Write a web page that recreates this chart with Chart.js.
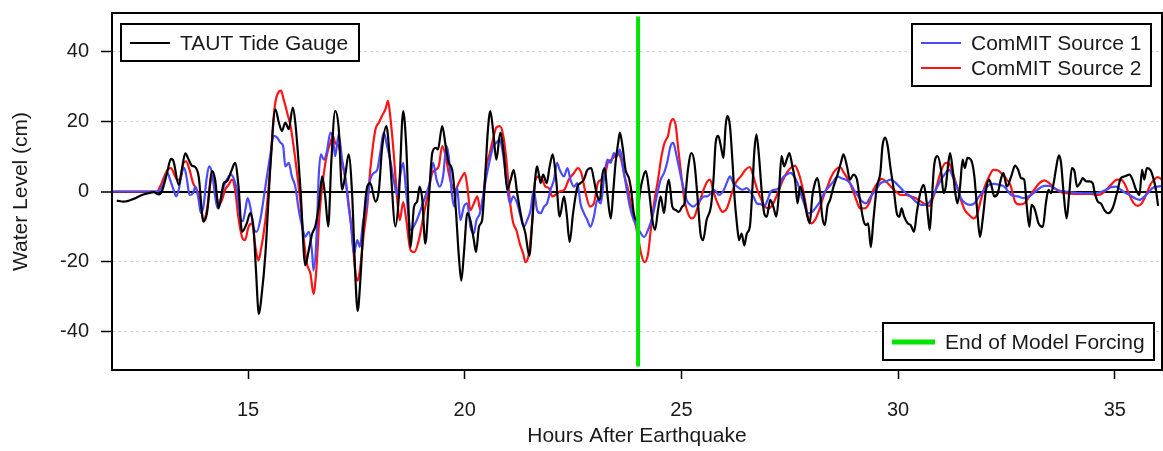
<!DOCTYPE html>
<html>
<head>
<meta charset="utf-8">
<script src="https://cdn.jsdelivr.net/npm/chart.js@4"></script>
<style>
  html, body { margin: 0; padding: 0; background: #fff; }
</style>
</head>
<body>
<canvas id="tideChart" width="1163" height="451"></canvas>
<script>
// ---- data ----
const xTicks = [15, 20, 25, 30, 35];
const yTicks = [-40, -20, 0, 20, 40];
const forcingEnd = 24;
const forcingSpan = [-50, 50];

const tideHours = [11.97,12.13,12.36,12.55,12.70,12.82,12.94,13.01,13.13,13.22,13.28,13.40,13.47,13.55,13.63,13.70,13.78,13.86,13.97,14.05,14.17,14.24,14.32,14.44,14.51,14.63,14.70,14.78,14.86,14.97,15.05,15.13,15.18,15.25,
  15.31,15.40,15.52,15.63,15.71,15.78,15.86,15.94,16.03,16.09,16.21,16.32,16.40,16.48,16.55,16.63,16.71,16.78,16.85,16.92,17.01,17.09,17.17,17.25,17.32,17.40,17.48,17.53,17.59,17.67,17.75,17.82,17.94,18.02,18.09,18.19,18.28,18.40,18.48,18.58,18.65,
  18.75,18.83,18.90,18.96,19.02,19.09,19.17,19.25,19.33,19.38,19.48,19.56,19.63,19.71,19.79,19.86,19.92,19.98,20.06,20.13,20.21,20.26,20.33,20.40,20.48,20.53,20.59,20.66,20.73,20.82,20.90,20.98,21.06,21.13,21.21,21.32,21.40,21.49,21.56,21.61,21.67,21.75,21.81,21.89,21.96,22.03,22.11,22.19,
  22.29,22.35,22.42,22.50,22.60,22.67,22.75,22.83,22.92,22.98,23.06,23.12,23.17,23.23,23.29,23.37,23.43,23.48,23.54,23.58,23.64,23.71,23.79,23.84,23.90,23.97,24.04,24.12,24.18,24.25,24.33,24.39,24.46,24.52,24.60,24.66,24.71,24.79,24.87,24.94,25.02,25.07,25.15,25.23,25.30,25.37,25.44,25.50,25.58,
  25.68,25.74,25.79,25.85,25.91,25.97,26.02,26.06,26.12,26.18,26.23,26.28,26.33,26.39,26.45,26.51,26.58,26.64,26.68,26.73,26.79,26.85,26.91,26.97,27.05,27.12,27.19,27.25,27.31,27.37,27.43,27.49,27.56,27.62,27.68,27.74,27.82,27.89,27.96,28.02,28.08,28.14,28.20,28.25,28.31,28.37,28.43,28.51,28.59,28.68,28.74,28.82,28.89,28.97,29.05,29.12,
  29.20,29.26,29.31,29.37,29.43,29.51,29.59,29.64,29.70,29.76,29.82,29.90,29.97,30.03,30.08,30.14,30.22,30.29,30.37,30.43,30.51,30.59,30.64,30.70,30.73,30.77,30.83,30.91,30.99,31.05,31.10,31.16,31.20,31.26,31.32,31.37,31.43,31.49,31.54,31.60,31.68,31.76,31.83,31.89,31.95,32.03,32.10,32.16,32.22,32.30,32.37,32.43,32.51,
  32.61,32.70,32.77,32.84,32.91,32.97,33.03,33.08,33.16,33.24,33.34,33.41,33.47,33.53,33.59,33.64,33.71,33.76,33.82,33.89,33.95,34.01,34.07,34.13,34.20,34.26,34.34,34.41,34.49,34.54,34.61,34.68,34.76,34.85,34.95,35.05,35.14,35.22,35.34,35.41,35.49,35.57,35.63,35.68,35.74,35.82,35.90,35.95,36.00];
const tideLevel = [-2.6,-2.9,-2.1,-1.0,-0.5,-0.2,-0.8,0,5.3,9.3,8.6,1.9,6.2,10.9,9.1,7.4,7.0,4.3,-8.6,-6.2,5.8,3.4,-4.8,2.4,2.9,6.4,8.2,1.4,-11.5,-9.1,-6.2,-11.0,-22,-35,
  -30,-17.8,8.2,23.5,19.7,17.3,19.7,17.8,24,19.7,0.5,-21.1,-16.8,-12,-10,-4.3,4.3,-1.4,-10,8.2,23,18.3,0.5,5.3,10.6,-0.5,-25.5,-34.1,-25.5,-8.2,1.4,2.4,-2.9,0.5,12,18.7,8.2,-10,-1.4,23,13,
  -15.9,-4.3,-2.9,1.4,-2.4,-14.9,-2.4,11,12.5,12,18.7,13,8.2,6.2,-4.3,-17.8,-25.5,-17.8,-6.2,-8.2,-13.9,-17.3,-10,-8.2,6.2,16.8,23,16.8,9.1,16.8,11,0.5,3.4,6.2,-0.5,-8.2,-12,-18.3,-8.2,1.4,7.2,2.4,4.8,2.4,7.2,10.6,3.4,-7.2,
  -1.4,-6.2,-14.4,-6.2,1.4,2.4,3.4,6.2,6.7,3.4,-1.4,-2.4,4.3,6.7,-0.5,-7.7,0.5,8.2,13.9,16.8,13,6.2,3.8,0.5,-6.2,-8.2,-0.5,4.3,5.8,0.5,-8.2,-11,-5.3,-1.4,-6.2,0.5,3.4,-4.3,-5.3,-5.8,-4.3,-3.4,6.2,11,8.2,-1.4,-12,-13.9,-8.2,
  -4.3,3.4,13.9,15.9,13,9.6,18.7,21.6,18.7,8.2,-2.4,-9.1,-13.9,-12,-15.4,-12,-10,1.4,11,16.3,10.1,0.5,-6.2,-7.2,-2.4,-4.3,-7.2,-0.5,10.1,7.2,9.1,11,7.2,3.4,-3.4,1.4,-1.4,-6.2,-9.1,-1.4,2.4,3.8,-0.5,-7.2,-9.6,-4.3,-2.4,1.4,4.3,8.2,10.6,7.2,3.4,4.8,3.4,-2.4,
  -8.2,-9.6,-9.1,-15.9,-8.2,1.4,5.3,13,15.4,13,7.2,0.5,-6.2,-7.2,-4.8,-7.2,-9.1,-9.6,-11.5,-6.2,-0.5,1.9,-1.0,-8.2,-11,-4.3,7.2,10.1,6.2,-0.5,1.4,8.2,11,6.2,-0.5,-3.4,1.4,9.1,6.7,9.6,9.1,4.3,-6.2,-13,-8.2,0.5,3.4,1.4,-1.4,-0.5,3.4,5.3,1.4,
  4.3,7.4,6.2,3.8,3.4,-4.3,-10.1,-3.8,-5.3,-9.1,-10.1,-3.4,0.5,-0.5,2.4,6.2,10.3,8.2,-0.5,-7.7,-0.5,6.7,5.8,1.4,2.4,3.8,2.9,2.9,2.4,-0.5,-2.9,-3.4,-5.3,-6.2,-4.8,-0.5,3.8,4.3,4.8,3.4,0.5,-1.0,6.2,3.4,6.7,6.2,3.4,0.5,-4.1];

const src1Hours = [11.86,12.90,12.97,13.05,13.14,13.20,13.28,13.34,13.40,13.47,13.53,13.59,13.65,13.73,13.78,13.86,13.91,13.97,14.04,14.10,14.17,14.24,14.30,14.36,14.44,14.51,14.60,14.68,14.74,14.82,14.88,14.94,14.99,15.05,15.13,15.20,
  15.28,15.40,15.52,15.59,15.67,15.75,15.81,15.86,15.94,16.01,16.09,16.17,16.25,16.32,16.40,16.48,16.51,16.58,16.63,16.68,16.75,16.82,16.90,16.96,17.01,17.09,17.17,17.25,17.32,17.38,17.44,17.52,17.58,17.65,17.73,17.82,17.90,17.98,18.05,18.13,18.21,18.28,18.36,18.44,18.52,18.58,18.65,
  18.76,18.86,18.98,19.09,19.19,19.27,19.35,19.42,19.50,19.58,19.63,19.71,19.76,19.82,19.90,19.98,20.06,20.13,20.21,20.27,20.35,20.42,20.50,20.58,20.66,20.73,20.81,20.89,20.96,21.04,21.12,21.21,21.27,21.36,21.44,21.52,21.59,21.67,21.75,21.83,21.90,21.98,22.06,22.13,22.19,
  22.29,22.37,22.44,22.52,22.60,22.67,22.75,22.83,22.90,22.98,23.06,23.14,23.21,23.29,23.37,23.44,23.52,23.58,23.66,23.74,23.81,23.90,24.02,24.14,24.23,24.33,24.43,24.52,24.60,24.67,24.75,24.81,24.89,24.97,25.04,25.12,25.20,25.27,25.37,25.44,25.52,25.60,
  25.68,25.75,25.87,25.98,26.06,26.12,26.20,26.29,26.41,26.51,26.58,26.66,26.74,26.83,26.91,26.99,27.06,27.15,27.25,27.33,27.43,27.52,27.60,27.68,27.75,27.83,27.92,28.02,28.12,28.22,28.31,28.41,28.51,28.60,28.69,28.79,28.89,28.98,29.06,
  29.14,29.26,29.37,29.49,29.60,29.72,29.83,29.95,30.06,30.18,30.29,30.41,30.53,30.64,30.76,30.87,30.99,31.10,31.18,31.26,31.36,31.45,31.56,31.66,31.76,31.87,31.99,32.10,32.22,32.33,32.45,
  32.61,32.76,32.91,33.07,33.22,33.37,33.49,33.60,33.72,33.87,34.07,34.26,34.45,34.64,34.80,34.91,35.03,35.14,35.26,35.37,35.49,35.57,35.64,35.76,35.87,35.99,36.09];
const src1Level = [0,0,0.5,2.4,5.3,3.4,0.5,-1.4,0.5,5.3,6.7,3.4,-1.0,-0.5,1.4,-2.4,-6.2,-4.3,3.4,7.2,5.3,-1.4,-4.8,-2.4,1.4,3.4,4.8,3.4,0.5,-7.5,-8.5,-5,-1.9,-4.3,-10.6,-11.5,
  -8.2,1.4,11,15.9,15.4,13.9,12.9,7.2,8.2,4.3,1.4,-5.3,-10.1,-13,-11.5,-17.8,-22.6,-13,4.3,10.6,9.1,11.5,16.8,15,10.1,16.3,9.1,3.4,-4.3,-10.1,-17.8,-13.9,-15.8,-9.1,-4.3,3.4,5.3,6.2,11,16.8,12.9,9.1,3.4,-1.0,5.3,8.2,-0.5,
  -11,-9.1,-5.3,-1.4,2.4,8.2,3.4,1.4,4.3,13,10.1,-1.4,-4.3,1.4,-8.2,-4.3,-3.4,-10.1,-12,-8.2,-6.2,-1.4,4.3,9.1,13,13.9,14.9,10.1,3.4,-3.4,-1.4,-3.4,-6.2,-10.1,-8.2,-5.3,0.5,-5.3,-6.2,-4.3,-3.4,0.5,3.4,8.2,6.2,
  4.3,6.7,3.4,1.4,2.4,-3.4,-6.2,-8.2,-10.1,-7.2,-2.4,-3.4,3.4,9.1,8.2,11,10.1,12,6.2,0.5,-4.3,-8.2,-11,-13,-11,-7.2,-1.4,3.4,5.3,8.2,13,13.9,10.1,5.3,1.4,-2.4,-3.8,-4.3,-3.4,-2.4,-1.4,-1.4,
  -0.5,0.5,-1.0,0.5,2.9,4.3,2.4,1.4,0.5,1.0,0,-1.4,-3.4,-3.6,-4.3,-2.4,0,0.5,1.0,3.8,4.8,5.3,4.3,2.4,-0.5,-3.4,-6.2,-5.8,-4.3,-2.4,0,1.4,2.9,4.3,3.8,3.4,2.4,0.5,-1.0,
  -2.4,-3.4,-1.4,0.5,2.4,2.9,3.4,2.4,1.0,-0.5,-1.4,-2.9,-3.8,-3.8,-2.4,0.5,3.4,5.3,6.2,4.3,1.4,-1.9,-3.4,-3.8,-3.4,-1.4,0.5,1.9,2.2,1.9,1.4,
  -1.0,-1.4,-1.9,-1.0,0.5,1.6,1.6,1.0,0.3,0,-0.3,-0.5,-0.5,-0.3,0.5,1.2,1.4,0.5,-0.5,-1.2,-2.1,-2.4,-1.9,-0.5,1.0,1.4,1.6];

const src2Hours = [11.86,12.90,12.97,13.05,13.14,13.22,13.30,13.36,13.44,13.51,13.57,13.65,13.73,13.82,13.90,13.97,14.05,14.13,14.19,14.27,14.32,14.40,14.47,14.55,14.63,14.70,14.78,14.86,14.93,15.01,15.09,15.17,15.24,
  15.28,15.40,15.50,15.58,15.63,15.76,15.82,15.90,15.98,16.05,16.13,16.21,16.28,16.36,16.44,16.51,16.58,16.65,16.75,16.82,16.90,16.96,17.01,17.09,17.17,17.25,17.32,17.40,17.48,17.53,17.59,17.67,17.75,17.82,17.94,18.02,18.09,18.17,18.23,18.28,18.36,18.44,18.50,18.58,18.65,
  18.75,18.84,18.94,19.06,19.17,19.25,19.33,19.40,19.48,19.56,19.63,19.71,19.79,19.86,19.94,20.00,20.06,20.13,20.21,20.29,20.36,20.42,20.50,20.58,20.67,20.73,20.81,20.89,20.96,21.04,21.12,21.19,21.27,21.35,21.40,21.48,21.56,21.63,21.71,21.79,21.86,21.94,22.02,22.09,22.19,
  22.30,22.40,22.52,22.61,22.69,22.79,22.89,22.98,23.07,23.15,23.23,23.30,23.38,23.46,23.53,23.61,23.69,23.77,23.84,23.92,24.00,24.07,24.15,24.23,24.30,24.38,24.46,24.54,24.61,24.69,24.75,24.81,24.87,24.92,25.00,25.07,25.15,25.23,25.30,25.38,25.46,25.54,25.60,25.66,
  25.75,25.85,25.95,26.05,26.14,26.25,26.37,26.48,26.58,26.66,26.75,26.83,26.92,27.02,27.12,27.22,27.33,27.43,27.52,27.62,27.69,27.77,27.85,27.92,28.00,28.08,28.18,28.28,28.37,28.46,28.56,28.66,28.75,28.85,28.95,29.05,29.12,
  29.23,29.33,29.43,29.53,29.62,29.72,29.83,29.95,30.06,30.18,30.29,30.41,30.53,30.64,30.72,30.82,30.91,31.00,31.10,31.18,31.26,31.36,31.45,31.54,31.64,31.74,31.82,31.91,32.00,32.10,32.20,32.31,32.41,32.51,32.59,
  32.70,32.80,32.91,33.03,33.14,33.26,33.37,33.49,33.60,33.72,33.87,34.07,34.26,34.45,34.61,34.72,34.84,34.95,35.05,35.14,35.24,35.34,35.44,35.53,35.62,35.72,35.82,35.91,35.99,36.09];
const src2Level = [0,0,1.4,3.8,6.2,6.7,4.8,3.4,3.4,8.2,8.6,6.2,2.4,0.5,-3.4,-8.2,-5.3,2.4,4.8,-0.5,-3.8,-2.4,0.5,1.9,3.4,0.5,-7.7,-13,-13.9,-10.1,-9.1,-15.9,-19.7,
  -17.8,-8.2,5.3,19.7,25.5,28.8,26.4,22.6,18.7,13,5.3,-3.4,-13,-20.7,-23.5,-29.3,-21.6,-6.2,5.3,10.6,13.9,15.9,13.9,13,8.2,3.4,-3.4,-12,-23.5,-25.5,-21.6,-12,-4.3,6.2,17.8,19.7,21.6,23.5,25.9,21.6,11,-2,-8.2,-3,-8,
  -16.8,-17.3,-13.9,-6.2,0.5,5.3,6.2,7.2,13,10.1,5.3,1.4,0.5,2.4,4.3,5.3,1.4,-5.3,-3.4,-1.4,-5.3,-2.4,7.2,11,15.9,18.3,18.7,15.9,9.1,-2.4,-9.1,-11,-14.9,-17.8,-20.2,-17.8,-8.2,3.4,4.3,3.4,1.4,1.0,-1.4,-1.0,0,
  0.5,3.4,5.3,6.7,5.3,-0.5,-4.3,-3.4,2.4,3.4,4.3,8.2,9.1,10.1,11,9.1,4.3,0.5,-4.3,-8.2,-13,-17.8,-20.2,-17.8,-10.1,-2.4,3.4,10.1,13.9,15.9,19.7,20.7,18.7,13,4.3,-2.4,-6.2,-7.7,-7.2,-4.3,-1.4,1.4,2.9,3.4,
  -0.5,-3.8,-5.8,-4.8,-1.4,2.4,4.3,6.2,7.0,4.3,0.5,-1.9,-4.3,-4.8,-3.4,-0.5,2.9,5.3,6.7,7.4,5.8,2.4,-2.4,-7.2,-9.1,-8.2,-5.3,-1.4,1.4,4.3,6.2,7.0,5.3,3.4,0.5,-2.9,-4.8,
  -4.8,-3.4,0.5,2.4,3.6,2.9,1.4,0,-1.0,-1.0,-1.4,-1.9,-2.9,-3.8,-4.1,-1.4,2.4,6.2,8.2,8.0,5.3,1.4,-2.4,-5.3,-6.7,-7.7,-6.7,-2.4,1.4,4.3,6.2,6.0,4.8,3.4,1.9,
  -2.9,-3.7,-3.4,-1.4,0.5,2.4,3.2,2.4,1.0,0,-0.5,-0.7,-0.7,-0.7,-1.0,-0.5,1.0,2.4,3.4,3.4,1.9,-1.0,-3.4,-4.1,-3.4,-1.0,1.9,3.4,4.1,3.4];

// ---- chart ----
const FONT = '"Liberation Sans", Arial, sans-serif';
const TEXT = '#1a1a1a';
const pairs = (xs, ys) => xs.map((x, i) => ({ x: x, y: ys[i] }));
const isZero = c => c.tick && c.tick.value === 0;

// frame around the plot + the three legend boxes
const decorations = {
  id: 'decorations',
  afterDatasetsDraw(chart) {
    const ctx = chart.ctx;
    const a = chart.chartArea;
    ctx.save();
    ctx.strokeStyle = '#000';
    ctx.lineWidth = 2;
    ctx.strokeRect(a.left, a.top, a.right - a.left, a.bottom - a.top);

    ctx.font = '21px ' + FONT;
    ctx.textBaseline = 'middle';
    const box = (x, y, w, rows, lineLen, textGap) => {
      const h = rows.length * 25 + 12;
      ctx.fillStyle = '#fff';
      ctx.fillRect(x, y, w, h);
      ctx.strokeStyle = '#000';
      ctx.lineWidth = 2;
      ctx.strokeRect(x, y, w, h);
      rows.forEach((r, i) => {
        const cy = y + 19 + i * 25;
        ctx.beginPath();
        ctx.strokeStyle = r.color;
        ctx.lineWidth = r.width;
        ctx.moveTo(x + 9, cy);
        ctx.lineTo(x + 9 + lineLen, cy);
        ctx.stroke();
        ctx.fillStyle = TEXT;
        ctx.fillText(r.label, x + 9 + lineLen + textGap, cy + 1);
      });
    };
    const ds = chart.data.datasets;
    box(a.left + 9, a.top + 11, 238, [{ label: ds[1].label, color: ds[1].borderColor, width: 2 }], 40, 10);
    box(a.right - 250, a.top + 11, 239, [
      { label: ds[2].label, color: ds[2].borderColor, width: 2 },
      { label: ds[3].label, color: ds[3].borderColor, width: 2 }
    ], 40, 10);
    box(a.right - 279, a.bottom - 47, 271, [{ label: ds[0].label, color: ds[0].borderColor, width: 5 }], 43, 10);
    ctx.restore();
  }
};

new Chart(document.getElementById('tideChart'), {
  type: 'line',
  data: {
    datasets: [
      { label: 'End of Model Forcing', data: forcingSpan.map(v => ({ x: forcingEnd, y: v })),
        borderColor: '#00e400', borderWidth: 4, tension: 0, order: 0 },
      { label: 'TAUT Tide Gauge', data: pairs(tideHours, tideLevel),
        borderColor: '#000000', borderWidth: 2.2, cubicInterpolationMode: 'monotone', order: 1 },
      { label: 'ComMIT Source 1', data: pairs(src1Hours, src1Level),
        borderColor: '#4a4aff', borderWidth: 2.2, cubicInterpolationMode: 'monotone', order: 2 },
      { label: 'ComMIT Source 2', data: pairs(src2Hours, src2Level),
        borderColor: '#ff1414', borderWidth: 2.2, cubicInterpolationMode: 'monotone', order: 3 }
    ]
  },
  options: {
    responsive: false,
    animation: false,
    layout: { padding: { top: 13, right: 1, left: 0, bottom: 0 } },
    elements: { point: { radius: 0 }, line: { borderJoinStyle: 'round', fill: false } },
    plugins: { legend: { display: false }, tooltip: { enabled: false } },
    scales: {
      x: {
        type: 'linear', min: 11.86, max: 36.09,
        afterBuildTicks: s => { s.ticks = xTicks.map(v => ({ value: v })); },
        afterFit: s => { s.height = 81; s.paddingLeft = 0; s.paddingRight = 0; },
        grid: { drawOnChartArea: false, tickLength: 9, tickColor: '#000', tickWidth: 1.5 },
        border: { display: false },
        ticks: { padding: 19, color: TEXT, font: { family: FONT, size: 20 } },
        title: { display: true, text: 'Hours After Earthquake', color: TEXT,
                 font: { family: FONT, size: 21 }, padding: { top: 0, bottom: 2 } }
      },
      y: {
        min: -51, max: 51,
        afterBuildTicks: s => { s.ticks = yTicks.map(v => ({ value: v })); },
        afterFit: s => { s.width = 112; s.paddingTop = 0; s.paddingBottom = 0; },
        grid: {
          color: c => isZero(c) ? '#000' : '#d4d4d4',
          lineWidth: c => isZero(c) ? 2 : 1,
          tickColor: '#000', tickLength: 11, tickWidth: 1.5
        },
        border: { display: false, dash: c => isZero(c) ? [] : [3, 3] },
        ticks: { padding: 12, color: TEXT, font: { family: FONT, size: 20 } },
        title: { display: true, text: 'Water Level (cm)', color: TEXT,
                 font: { family: FONT, size: 21 }, padding: { top: 9, bottom: 0 } }
      }
    }
  },
  plugins: [decorations]
});
</script>
</body>
</html>
